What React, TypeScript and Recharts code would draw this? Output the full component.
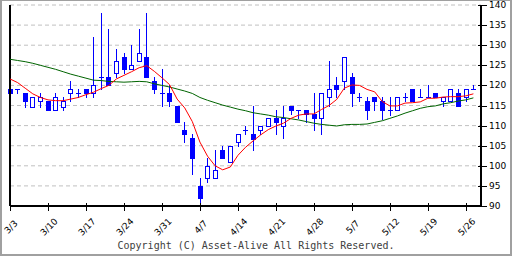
import React from "react";
import {
  ComposedChart, Bar, Line, XAxis, YAxis, CartesianGrid, ReferenceLine,
} from "recharts";

// daily candles, one per trading day (index 0 = 3/3)
const opens = [
  119, 119, 118, 114.7, 116, 116, 113.8, 114.7, 118, 118,
  119, 118, 122, 122, 123, 127, 124, 126, 127, 121,
  118, 118, 115, 109, 107, 95, 97, 97, 104, 101,
  106, 109, 108, 109, 110, 112, 110, 115, 114, 114,
  113, 112, 117, 120, 121, 122, 117, 116, 117, 116,
  113.8, 113.8, 117, 119, 117, 117, 118, 116, 116, 118,
  117, 119,
];
const highs = [
  119, 119, 118, 117, 118, 116, 118, 117, 121, 119,
  119, 132, 138, 134, 129, 128, 130, 134, 138, 122,
  124, 120, 115, 111, 108, 97, 102, 104, 105, 105,
  108, 110, 115, 110, 112, 114, 115, 115, 114, 114,
  118, 118, 126, 122, 127, 123, 118, 117, 117, 117,
  117, 117, 118, 119, 119, 120, 118, 117, 119, 119,
  119, 120,
];
const lows = [
  118, 118, 114.7, 114.7, 114.7, 113.8, 113.8, 113.8, 116, 117,
  117, 117, 119, 120, 122, 123, 124, 126, 122, 118,
  114.8, 114.8, 110.8, 106, 98, 91, 96, 97, 102, 101,
  105, 108, 104, 108, 110, 108, 107, 113, 112, 111,
  109, 108, 115, 117, 119, 115, 116, 111.7, 114, 111.6,
  112.7, 113.8, 116, 116, 117, 117, 117, 115, 116, 115,
  116, 119,
];
const closes = [
  118, 119, 116, 117, 117, 113.8, 117, 116, 119, 118,
  118, 120, 122, 120, 126, 124, 125, 128, 122, 119,
  118, 116, 110.8, 108, 102, 92, 100, 99, 102, 105,
  108, 109, 106.7, 110, 112, 111, 112, 114, 114, 113,
  112, 118, 119, 119, 127, 118, 117, 114, 116, 114,
  113.8, 117, 117, 116, 117, 117, 117, 117, 119, 115,
  119, 119,
];
// short moving average (red)
const maShort = [
  121.6, 120.7, 119.3, 117.9, 117.0, 116.4, 116.2, 116.2, 116.6, 117.0,
  117.7, 118.3, 119.2, 120.0, 121.6, 122.5, 123.4, 124.4, 124.9, 123.5,
  121.9, 120.2, 116.6, 114.4, 111.0, 105.9, 102.4, 100.0, 99.0, 99.7,
  102.6, 104.6, 106.2, 107.7, 109.0, 109.9, 110.6, 111.8, 112.6, 112.9,
  112.9, 114.0, 115.0, 116.5, 119.3, 120.1, 120.0, 119.0, 118.4, 116.0,
  114.9, 114.9, 115.6, 115.7, 115.9, 116.8, 116.8, 117.1, 117.2, 117.2,
  117.4, 117.9,
];
// long moving average (green)
const maLong = [
  126.5, 126.2, 125.9, 125.5, 125.0, 124.5, 124.0, 123.4, 122.8, 122.3,
  121.8, 121.3, 121.2, 121.0, 120.9, 120.8, 120.9, 121.0, 120.9, 120.4,
  120.0, 119.6, 119.1, 118.6, 118.0, 117.0, 116.3, 115.7, 115.1, 114.6,
  114.1, 113.7, 113.2, 112.9, 112.6, 112.2, 112.0, 111.7, 111.4, 111.0,
  110.6, 110.3, 110.1, 109.9, 110.2, 110.3, 110.3, 110.4, 110.8, 111.2,
  111.8, 112.4, 113.1, 113.7, 114.3, 114.7, 114.9, 115.4, 115.7, 116.1,
  116.4, 116.9,
];
const tickIdx = [0, 5, 10, 15, 20, 25, 30, 35, 40, 45, 50, 55, 60];
const tickDates = ["3/3", "3/10", "3/17", "3/24", "3/31", "4/7", "4/14", "4/21", "4/28", "5/7", "5/12", "5/19", "5/26"];
const priceTicks = [90, 95, 100, 105, 110, 115, 120, 125, 130, 135, 140];

const FLOOR = 90;
const BLUE = "#0000ff";

const data = opens.map((o, i) => ({
  i, open: o, high: highs[i], low: lows[i], close: closes[i],
  maShort: maShort[i], maLong: maLong[i],
}));

// eslint-disable-next-line @typescript-eslint/no-explicit-any
function Candle(props: any) {
  const { x, y, width, height, payload } = props;
  const { open, close, high, low } = payload;
  const k = height / (high - FLOOR);
  const py = (v: number) => Math.round(y + (high - v) * k);
  const cx = Math.round(x + width / 2);
  const top = py(Math.max(open, close));
  const bot = py(Math.min(open, close));
  return (
    <g shapeRendering="crispEdges">
      <line x1={cx + 0.5} x2={cx + 0.5} y1={py(high)} y2={py(low) + 1} stroke={BLUE} />
      {open === close ? (
        <line x1={cx - 2} x2={cx + 3} y1={top + 0.5} y2={top + 0.5} stroke={BLUE} />
      ) : close > open ? (
        <rect x={cx - 1.5} y={top + 0.5} width={4} height={Math.max(bot - top, 1)} fill="#fff" stroke={BLUE} />
      ) : (
        <rect x={cx - 2} y={top} width={5} height={Math.max(bot - top + 1, 1)} fill={BLUE} />
      )}
    </g>
  );
}

// eslint-disable-next-line @typescript-eslint/no-explicit-any
function DateTick({ x, y, payload }: any) {
  const label = tickDates[tickIdx.indexOf(payload.value)] ?? "";
  const ty = y + 21;
  return (
    <g>
      <line x1={x + 0.5} x2={x + 0.5} y1={y - 3} y2={y + 5} stroke="#000" shapeRendering="crispEdges" />
      <text x={x + 1} y={ty} transform={`rotate(-45 ${x + 1} ${ty})`} textAnchor="middle" dominantBaseline="central"
        fontSize={9} fontFamily="DejaVu Sans" fill="#000">{label}</text>
    </g>
  );
}

// eslint-disable-next-line @typescript-eslint/no-explicit-any
function PriceTick({ x, y, payload }: any) {
  return (
    <g>
      <line x1={x - 3} x2={x + 6} y1={y + 0.5} y2={y + 0.5} stroke="#000" shapeRendering="crispEdges" />
      <text x={x + 8} y={y} dominantBaseline="central" fontSize={9} fontFamily="DejaVu Sans" fill="#000">
        {payload.value}
      </text>
    </g>
  );
}

export default function App() {
  return (
    <div style={{ position: "relative", width: 512, height: 256, background: "#fff" }}>
      <style>{"body{margin:0}"}</style>
      <ComposedChart width={512} height={256} data={data} margin={{ top: 5, right: 0, bottom: 0, left: 10 }}>
        <CartesianGrid horizontal vertical={false} stroke="#c0c0c0" strokeDasharray="4 3" />
        <XAxis
          dataKey="i" type="number" domain={[0, 62]} ticks={tickIdx} interval={0}
          height={50} tickSize={0} tickMargin={0} tickLine={false}
          axisLine={{ stroke: "#000", strokeWidth: 2 }} tick={<DateTick />}
        />
        <YAxis
          orientation="right" type="number" domain={[90, 140]} ticks={priceTicks} interval={0}
          width={31} tickSize={0} tickMargin={0} tickLine={false}
          axisLine={{ stroke: "#000", strokeWidth: 2 }} tick={<PriceTick />}
        />
        <ReferenceLine x={0} stroke="#000" strokeWidth={2} />
        <Bar dataKey="high" barSize={5} shape={<Candle />} isAnimationActive={false} />
        <Line type="linear" dataKey="maLong" stroke="#006400" strokeWidth={1} dot={false} isAnimationActive={false} />
        <Line type="linear" dataKey="maShort" stroke="#ff0000" strokeWidth={1} dot={false} isAnimationActive={false} />
      </ComposedChart>
      <div style={{
        position: "absolute", left: 0, top: 240, width: 512, textAlign: "center",
        fontFamily: "DejaVu Sans Mono", fontSize: 10, color: "#404040", lineHeight: "12px",
      }}>
        Copyright (C) Asset-Alive All Rights Reserved.
      </div>
      <div style={{
        position: "absolute", inset: 0, boxSizing: "border-box", pointerEvents: "none",
        borderStyle: "solid", borderColor: "#a0a0a0", borderWidth: "1px 2px 2px 2px",
      }} />
    </div>
  );
}
